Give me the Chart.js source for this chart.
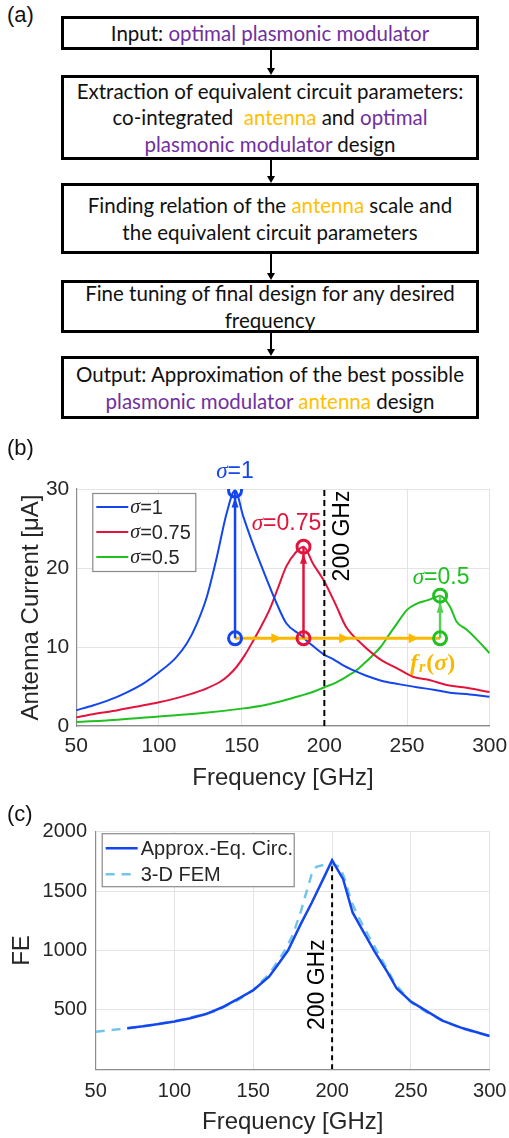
<!DOCTYPE html>
<html>
<head>
<meta charset="utf-8">
<script src="https://cdn.jsdelivr.net/npm/chart.js@4.4.0/dist/chart.umd.min.js"></script>
<style>
    html, body { margin: 0; padding: 0; background: #fff; }
    body { width: 509px; height: 1138px; position: relative; overflow: hidden; font-family: 'Liberation Sans', Arial, sans-serif; }
    .tag { position: absolute; left: 7px; font-size: 22px; color: #111; z-index: 2; }
    .box { position: absolute; left: 61px; width: 418px; box-sizing: border-box; border: 3px solid #000;
           display: flex; align-items: center; justify-content: center; text-align: center;
           font-family: Lato, sans-serif; font-size: 20.5px; line-height: 26.5px; color: #111; white-space: nowrap; }
    .p { color: #7030a0; }
    .o { color: #ffc000; }
    .stem { position: absolute; left: 270px; width: 2px; background: #000; }
    .head { position: absolute; left: 267px; width: 0; height: 0;
            border-left: 4px solid transparent; border-right: 4px solid transparent; border-top: 7px solid #000; }
    canvas { position: absolute; left: 0; }
</style>
</head>
<body>

<div class="tag" style="top:2px">(a)</div>
<div class="box" style="top:16px;height:34px">
    <div>Input: <span class="p">optimal plasmonic modulator</span></div>
</div>
<div class="stem" style="top:50px;height:19px"></div><div class="head" style="top:68px"></div>
<div class="box" style="top:75px;height:85px">
    <div>Extraction of equivalent circuit parameters:<br>co-integrated &nbsp;<span class="o">antenna</span> and <span class="p">optimal</span><br><span class="p">plasmonic modulator</span> design</div>
</div>
<div class="stem" style="top:160px;height:17px"></div><div class="head" style="top:176px"></div>
<div class="box" style="top:183px;height:71px">
    <div>Finding relation of the <span class="o">antenna</span> scale and<br>the equivalent circuit parameters</div>
</div>
<div class="stem" style="top:254px;height:20px"></div><div class="head" style="top:273px"></div>
<div class="box" style="top:280px;height:53px">
    <div>Fine tuning of final design for any desired<br>frequency</div>
</div>
<div class="stem" style="top:333px;height:17px"></div><div class="head" style="top:349px"></div>
<div class="box" style="top:356px;height:63px">
    <div>Output: Approximation of the best possible<br><span class="p">plasmonic modulator</span> <span class="o">antenna</span> design</div>
</div>

<div class="tag" style="top:435px">(b)</div>
<canvas id="chartCurrent" width="509" height="360" style="top:440px;width:509px;height:360px"></canvas>
<div class="tag" style="top:801px">(c)</div>
<canvas id="chartFE" width="509" height="333" style="top:805px;width:509px;height:333px"></canvas>

<script>
// ---- panel (b): antenna current ----
const sigmaLabels = ['σ=1', 'σ=0.75', 'σ=0.5'];
const freq1 = [50, 60, 70, 80, 90, 100, 110, 117, 123, 129, 135, 141, 146, 151, 156, 163, 171, 177, 185, 191, 200, 205, 212, 217, 225, 235, 245, 256, 266, 276, 288, 300];
const curr1 = [2.0, 2.6, 3.3, 4.2, 5.3, 6.8, 8.6, 10.5, 13.0, 16.4, 21.4, 27.0, 29.8, 26.5, 23.5, 19.7, 15.6, 13.0, 11.6, 10.5, 9.0, 8.5, 7.6, 7.1, 6.4, 5.7, 5.3, 4.9, 4.6, 4.2, 4.0, 3.7];
const freq2 = [50, 60, 75, 90, 100, 110, 120, 127, 137, 142, 147, 152, 157, 162, 167, 172, 177, 182, 187.4, 193, 200, 207, 213, 222, 234, 244, 254, 264, 274, 284, 300];
const curr2 = [1.1, 1.5, 2.0, 2.6, 3.0, 3.5, 4.1, 4.6, 5.6, 6.4, 7.5, 9.0, 10.8, 12.7, 14.8, 17.5, 20.2, 21.8, 22.7, 20.6, 18.3, 15.3, 12.6, 10.5, 8.4, 7.3, 6.2, 5.8, 5.2, 4.9, 4.3];
const freq3 = [50, 75, 100, 125, 150, 165, 175, 185, 193, 200, 207, 213, 219, 224, 229, 234, 239, 244, 250, 256, 262, 266, 270, 276, 280, 286, 292, 300];
const curr3 = [0.5, 0.8, 1.2, 1.6, 2.2, 2.7, 3.2, 3.8, 4.3, 4.9, 5.5, 6.2, 7.0, 7.9, 8.9, 10.0, 11.5, 13.0, 14.7, 15.5, 15.9, 16.2, 16.5, 15.1, 13.2, 12.2, 11.0, 9.2];
const peakFreq = [146, 187.4, 270];
const peakCurr = [29.8, 22.7, 16.5];
const baseCurr = 11.1;
const shiftArrowFreq = [171, 212, 254];
const markerFreq = 200;
const xTicksB = [50, 100, 150, 200, 250, 300];
const yTicksB = [0, 10, 20, 30];

// ---- panel (c): field enhancement ----
const feLabels = ['Approx.-Eq. Circ.', '3-D FEM'];
const freqEq = [70, 80, 90, 100, 110, 120, 130, 140, 150, 160, 165, 172, 180, 187, 195, 200, 207, 213, 220, 227, 235, 241, 250, 260, 270, 283, 300];
const feEq = [345, 362, 382, 403, 430, 465, 520, 590, 665, 780, 870, 1000, 1220, 1400, 1620, 1760, 1600, 1320, 1155, 990, 820, 680, 570, 490, 410, 345, 280];
const freqFem = [50, 60, 70, 80, 90, 100, 110, 125, 140, 150, 160, 170, 175, 180, 183, 187, 190, 195, 200, 205, 208, 212, 216, 222, 230, 240, 250, 260, 270, 280, 290, 300];
const feFem = [316, 330, 345, 362, 382, 405, 435, 485, 580, 670, 800, 1000, 1130, 1320, 1460, 1640, 1705, 1722, 1725, 1705, 1600, 1420, 1300, 1150, 960, 720, 565, 480, 410, 355, 315, 280];
const yTicksC = [0, 500, 1000, 1500, 2000];

const curveColors = ['#1446f0', '#e3143c', '#20c020'];
const arrowColors = ['#1446f0', '#e3143c', '#55d055'];
const shiftColor = '#fbb800';
const axisInk = '#262626';
const gridInk = '#e4e4e4';

const pts = (xs, ys) => xs.map((v, i) => ({ x: v, y: ys[i] }));

function drawHead(ctx, x, y, dir, len, half, color) {
    ctx.fillStyle = color;
    ctx.beginPath();
    if (dir === 'up') {
        ctx.moveTo(x, y); ctx.lineTo(x - half, y + len); ctx.lineTo(x + half, y + len);
    } else {
        ctx.moveTo(x, y); ctx.lineTo(x - len, y - half); ctx.lineTo(x - len, y + half);
    }
    ctx.closePath();
    ctx.fill();
}

// "σ" in italic serif, the rest in sans (like the TeX labels)
function sigmaText(ctx, label, x, y, size, color, align) {
    const head = label.charAt(0), rest = label.slice(1);
    ctx.font = 'italic ' + size + 'px "Liberation Serif"';
    const w1 = ctx.measureText(head).width;
    ctx.font = size + 'px "Liberation Sans"';
    const w2 = ctx.measureText(rest).width;
    const sx = align === 'center' ? x - (w1 + w2) / 2 : x;
    ctx.fillStyle = color;
    ctx.textAlign = 'left';
    ctx.textBaseline = 'middle';
    ctx.font = 'italic ' + size + 'px "Liberation Serif"';
    ctx.fillText(head, sx, y);
    ctx.font = size + 'px "Liberation Sans"';
    ctx.fillText(rest, sx + w1, y);
}

function verticalLabel(ctx, text, x, y) {
    ctx.save();
    ctx.translate(x, y);
    ctx.rotate(-Math.PI / 2);
    ctx.font = '23px "Liberation Sans"';
    ctx.fillStyle = '#000';
    ctx.textAlign = 'center';
    ctx.textBaseline = 'middle';
    ctx.fillText(text, 0, 0);
    ctx.restore();
}

function legendBox(ctx, x, y, w, h) {
    ctx.fillStyle = '#fff';
    ctx.fillRect(x, y, w, h);
    ctx.strokeStyle = '#8a8a8a';
    ctx.lineWidth = 1.2;
    ctx.strokeRect(x + 0.5, y + 0.5, w, h);
}

const extrasB = {
    id: 'extrasB',
    afterDatasetsDraw(chart) {
        const { ctx, chartArea: area, scales: { x, y } } = chart;
        ctx.save();
        // heads on the vertical arrows and the shift arrow
        peakFreq.forEach((f, i) => {
            drawHead(ctx, x.getPixelForValue(f), y.getPixelForValue(peakCurr[i]) + 7, 'up', 10, 3.5, arrowColors[i]);
        });
        shiftArrowFreq.forEach(f => {
            drawHead(ctx, x.getPixelForValue(f) + 5, y.getPixelForValue(baseCurr), 'right', 10, 5, shiftColor);
        });
        verticalLabel(ctx, '200 GHz', x.getPixelForValue(markerFreq) + 18, area.top + 47);

        // sigma labels above each peak
        const offs = [[0, -19], [-17, -23], [1, -18]];
        peakFreq.forEach((f, i) => {
            sigmaText(ctx, sigmaLabels[i], x.getPixelForValue(f) + offs[i][0], y.getPixelForValue(peakCurr[i]) + offs[i][1], 23, curveColors[i], 'center');
        });

        // f_r(σ)
        const fx = x.getPixelForValue(peakFreq[2]) - 30;
        const fy = y.getPixelForValue(baseCurr) + 25;
        ctx.fillStyle = shiftColor;
        ctx.textAlign = 'left';
        ctx.textBaseline = 'middle';
        ctx.font = 'italic bold 24px "Liberation Serif"';
        ctx.fillText('f', fx, fy);
        let wx = fx + ctx.measureText('f').width + 1;
        ctx.font = 'italic bold 16px "Liberation Serif"';
        ctx.fillText('r', wx, fy + 5);
        wx += ctx.measureText('r').width + 1;
        ctx.font = 'bold 24px "Liberation Serif"';
        ctx.fillText('(', wx, fy);
        wx += ctx.measureText('(').width;
        ctx.font = 'italic bold 24px "Liberation Serif"';
        ctx.fillText('σ', wx, fy);
        wx += ctx.measureText('σ').width;
        ctx.font = 'bold 24px "Liberation Serif"';
        ctx.fillText(')', wx, fy);

        // legend
        const lx = area.left + 16, ly = area.top + 4;
        legendBox(ctx, lx, ly, 103, 78);
        sigmaLabels.forEach((lab, i) => {
            const ry = ly + 14 + i * 25;
            ctx.strokeStyle = curveColors[i];
            ctx.lineWidth = 2;
            ctx.beginPath();
            ctx.moveTo(lx + 4, ry); ctx.lineTo(lx + 36, ry);
            ctx.stroke();
            sigmaText(ctx, lab, lx + 38, ry + 1, 20, axisInk, 'left');
        });
        ctx.restore();
    }
};

const extrasC = {
    id: 'extrasC',
    afterDatasetsDraw(chart) {
        const { ctx, chartArea: area, scales: { x } } = chart;
        ctx.save();
        verticalLabel(ctx, '200 GHz', x.getPixelForValue(markerFreq) - 14, area.top + 153);

        const lx = area.left + 6, ly = area.top + 1.5;
        legendBox(ctx, lx, ly, 192, 53);
        const styles = [[], [9, 7]];
        const colors = ['#1446f0', '#74c4ea'];
        feLabels.forEach((lab, i) => {
            const ry = ly + 15 + i * 26;
            ctx.strokeStyle = colors[i];
            ctx.lineWidth = 2.5;
            ctx.setLineDash(styles[i]);
            ctx.beginPath();
            ctx.moveTo(lx + 4, ry); ctx.lineTo(lx + 36, ry);
            ctx.stroke();
            ctx.setLineDash([]);
            ctx.fillStyle = axisInk;
            ctx.font = '20px "Liberation Sans"';
            ctx.textAlign = 'left';
            ctx.textBaseline = 'middle';
            ctx.fillText(lab, lx + 39, ry + 1);
        });
        ctx.restore();
    }
};

function axisOptions(min, max, ticks, tickSize, pad, titleText, titlePad, fitKey, fitSize, hideZero) {
    return {
        type: 'linear',
        min: min,
        max: max,
        afterBuildTicks: s => { s.ticks = ticks.map(v => ({ value: v })); },
        afterFit: s => {
            s[fitKey] = fitSize;
            // keep label overhang from shrinking the plot area
            s.paddingLeft = 0; s.paddingRight = 0; s.paddingTop = 0; s.paddingBottom = 0;
        },
        grid: { color: gridInk, lineWidth: 1, drawTicks: false },
        border: { color: '#8c8c8c', width: 1.2 },
        ticks: {
            color: axisInk,
            padding: pad,
            font: { family: "'Liberation Sans', Arial", size: tickSize },
            callback: v => (hideZero && v === 0) ? '' : v
        },
        title: {
            display: true,
            text: titleText,
            color: axisInk,
            font: { family: "'Liberation Sans', Arial", size: 24 },
            padding: titlePad
        }
    };
}

const baseOptions = {
    responsive: false,
    animation: false,
    events: [],
    plugins: { legend: { display: false }, tooltip: { enabled: false } }
};

// Chart (b)
const curveSets = [pts(freq1, curr1), pts(freq2, curr2), pts(freq3, curr3)].map((d, i) => ({
    data: d, borderColor: curveColors[i], borderWidth: 2, pointRadius: 0,
    showLine: true, cubicInterpolationMode: 'monotone', order: 5
}));
const arrowSets = peakFreq.map((f, i) => ({
    data: [{ x: f, y: baseCurr }, { x: f, y: peakCurr[i] }],
    borderColor: arrowColors[i], borderWidth: 2.5, pointRadius: 0, showLine: true, order: 2
}));
const circleSets = peakFreq.map((f, i) => ({
    data: [{ x: f, y: baseCurr }, { x: f, y: peakCurr[i] }],
    showLine: false, pointStyle: 'circle', pointRadius: 6.5, pointBorderWidth: 3,
    pointBorderColor: curveColors[i], pointBackgroundColor: 'rgba(0,0,0,0)', order: 1
}));

new Chart(document.getElementById('chartCurrent').getContext('2d'), {
    type: 'scatter',
    data: {
        datasets: [
            ...curveSets,
            {
                data: [{ x: markerFreq, y: yTicksB[0] }, { x: markerFreq, y: yTicksB[yTicksB.length - 1] }],
                borderColor: '#000', borderWidth: 2, borderDash: [6, 4], pointRadius: 0, showLine: true, order: 4
            },
            {
                data: [{ x: peakFreq[0], y: baseCurr }, { x: peakFreq[2], y: baseCurr }],
                borderColor: shiftColor, borderWidth: 3, pointRadius: 0, showLine: true, order: 3
            },
            ...arrowSets,
            ...circleSets
        ]
    },
    options: {
        ...baseOptions,
        layout: { padding: { top: 49, right: 19.3, left: 0, bottom: 0 } },
        scales: {
            x: axisOptions(50, 300, xTicksB, 21, 8, 'Frequency [GHz]', { top: 0, bottom: 7.6 }, 'height', 74, false),
            y: axisOptions(0, 30, yTicksB, 21, 7, 'Antenna Current [μA]', { top: 16.6, bottom: 0 }, 'width', 76.3, false)
        }
    },
    plugins: [extrasB]
});

// Chart (c)
new Chart(document.getElementById('chartFE').getContext('2d'), {
    type: 'scatter',
    data: {
        datasets: [
            {
                data: pts(freqEq, feEq), borderColor: '#1446f0', borderWidth: 2.5, pointRadius: 0,
                showLine: true, tension: 0, order: 1
            },
            {
                data: pts(freqFem, feFem), borderColor: '#74c4ea', borderWidth: 2.5, borderDash: [9, 7],
                pointRadius: 0, showLine: true, tension: 0, order: 2
            },
            {
                data: [{ x: markerFreq, y: 0 }, { x: markerFreq, y: Math.max(...feEq) }],
                borderColor: '#000', borderWidth: 2, borderDash: [5, 4], pointRadius: 0, showLine: true, order: 3
            }
        ]
    },
    options: {
        ...baseOptions,
        layout: { padding: { top: 26.7, right: 19.3, left: 0, bottom: 0 } },
        scales: {
            x: axisOptions(50, 300, xTicksB, 20, 10, 'Frequency [GHz]', { top: 0, bottom: 1.6 }, 'height', 68.7, false),
            y: axisOptions(0, 2000, yTicksC, 20, 8.7, 'FE', { top: 7.6, bottom: 0 }, 'width', 95.7, true)
        }
    },
    plugins: [extrasC]
});
</script>
</body>
</html>
